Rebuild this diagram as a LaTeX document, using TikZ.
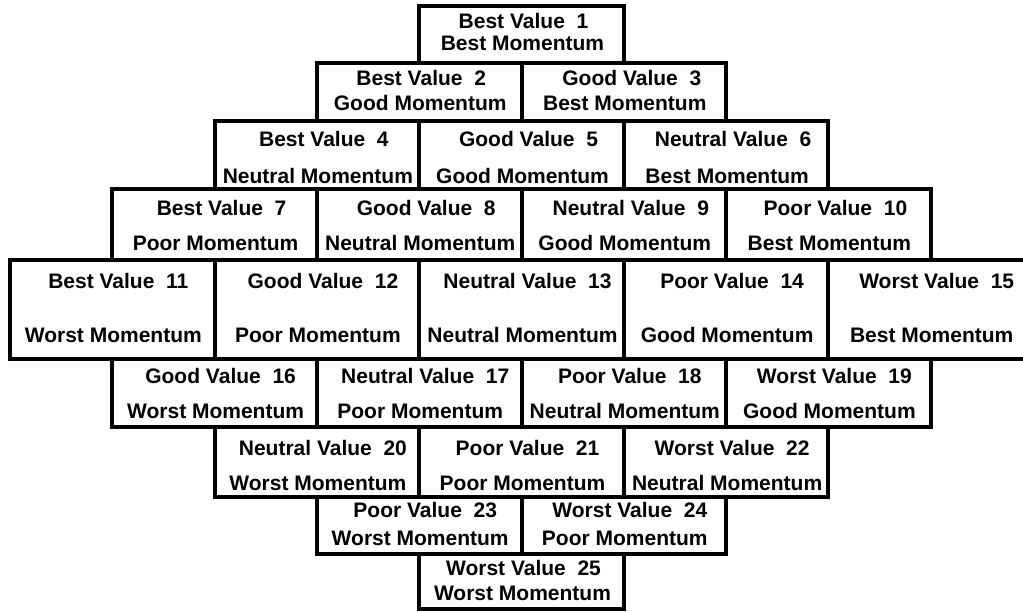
\documentclass[tikz,border=0pt]{standalone}
\usepackage{fontspec}
\setmainfont{Liberation Sans}
\tikzset{
  cellbox/.style={draw=black, line width=4pt, rectangle, inner sep=0pt, outer sep=0pt, fill=white},
  txt/.style={anchor=base, inner sep=0pt, font=\bfseries\fontsize{21}{25}\selectfont, text=black}
}
\newcommand\mkcell[9]{%
  \pgfmathsetmacro\xl{10+102.3*#2}%
  \pgfmathsetmacro\xc{\xl+102.3}%
  \pgfmathsetmacro\yc{(#3+#4)/2}%
  \pgfmathsetmacro\hh{#4-#3}%
  \node[cellbox, minimum width=204.6pt, minimum height=\hh pt] (b#1) at (\xc,\yc) {};
  \node[txt] (b#1a) at ({\xc+#7},#5) {#8};
  \node[txt] (b#1b) at ({\xc+1},#6) {#9};
}
\begin{document}
\begin{tikzpicture}[x=1pt,y=-1pt]
\useasboundingbox (0,0) rectangle (1023,611);
% row 1
\mkcell{1}{4}{6}{63}{28}{50}{2}{Best Value~~1}{Best Momentum}
% row 2
\mkcell{2}{3}{63}{121}{85}{110}{2}{Best Value~~2}{Good Momentum}
\mkcell{3}{5}{63}{121}{85}{110}{8}{Good Value~~3}{Best Momentum}
% row 3
\mkcell{4}{2}{121}{189}{146}{183}{7}{Best Value~~4}{Neutral Momentum}
\mkcell{5}{4}{121}{189}{146}{183}{7}{Good Value~~5}{Good Momentum}
\mkcell{6}{6}{121}{189}{146}{183}{7}{Neutral Value~~6}{Best Momentum}
% row 4
\mkcell{7}{1}{189}{260}{215}{250}{7}{Best Value~~7}{Poor Momentum}
\mkcell{8}{3}{189}{260}{215}{250}{7}{Good Value~~8}{Neutral Momentum}
\mkcell{9}{5}{189}{260}{215}{250}{7}{Neutral Value~~9}{Good Momentum}
\mkcell{10}{7}{189}{260}{215}{250}{7}{Poor Value~~10}{Best Momentum}
% row 5
\mkcell{11}{0}{260}{359}{288}{342}{6}{Best Value~~11}{Worst Momentum}
\mkcell{12}{2}{260}{359}{288}{342}{6}{Good Value~~12}{Poor Momentum}
\mkcell{13}{4}{260}{359}{288}{342}{6}{Neutral Value~~13}{Neutral Momentum}
\mkcell{14}{6}{260}{359}{288}{342}{6}{Poor Value~~14}{Good Momentum}
\mkcell{15}{8}{260}{359}{288}{342}{6}{Worst Value~~15}{Best Momentum}
% row 6
\mkcell{16}{1}{359}{427}{383}{418}{6}{Good Value~~16}{Worst Momentum}
\mkcell{17}{3}{359}{427}{383}{418}{6}{Neutral Value~~17}{Poor Momentum}
\mkcell{18}{5}{359}{427}{383}{418}{6}{Poor Value~~18}{Neutral Momentum}
\mkcell{19}{7}{359}{427}{383}{418}{6}{Worst Value~~19}{Good Momentum}
% row 7
\mkcell{20}{2}{427}{497}{455}{490}{6}{Neutral Value~~20}{Worst Momentum}
\mkcell{21}{4}{427}{497}{455}{490}{6}{Poor Value~~21}{Poor Momentum}
\mkcell{22}{6}{427}{497}{455}{490}{6}{Worst Value~~22}{Neutral Momentum}
% row 8
\mkcell{23}{3}{497}{554}{517}{545}{6}{Poor Value~~23}{Worst Momentum}
\mkcell{24}{5}{497}{554}{517}{545}{6}{Worst Value~~24}{Poor Momentum}
% row 9
\mkcell{25}{4}{554}{609}{575}{600}{2}{Worst Value~~25}{Worst Momentum}
\end{tikzpicture}
\end{document}
